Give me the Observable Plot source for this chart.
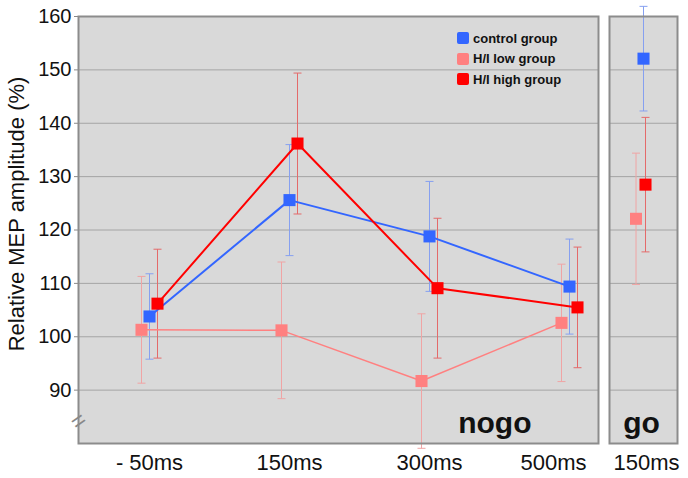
<!DOCTYPE html>
<html>
<head>
<meta charset="utf-8">
<script src="https://cdn.jsdelivr.net/npm/d3@7"></script>
<script src="https://cdn.jsdelivr.net/npm/@observablehq/plot@0.6"></script>
<style>
  html, body { margin: 0; padding: 0; background: #fff; }
  #chart { position: relative; width: 688px; height: 478px; font-family: "Liberation Sans", Arial, Helvetica, sans-serif; }
  #nogo { position: absolute; left: 0; top: 0; }
  #go { position: absolute; left: 600px; top: 0; }
  #legend { position: absolute; left: 457px; top: 28px; font-weight: bold; font-size: 13px; color: #111; }
  .row { display: flex; align-items: center; height: 20.5px; }
  .sw { width: 12px; height: 12px; border-radius: 2px; margin-right: 4px; }
</style>
</head>
<body>
<div id="chart">
  <div id="nogo"></div>
  <div id="go"></div>
  <div id="legend"></div>
</div>
<script>
// ---- data ----
const categories = ["- 50ms", "150ms", "300ms", "500ms"];
const goCategory = ["150ms"];
const seriesNames = ["control group", "H/I low group", "H/I high group"];
const seriesColors = ["#3366ff", "#ff8080", "#ff0000"];
const errorColors = ["#86a0f0", "#f0a4a4", "#e46a6a"];

const controlMean = [103.8, 125.6, 118.8, 109.4];
const controlErr  = [8.0, 10.4, 10.3, 8.9];
const lowMean     = [101.3, 101.2, 91.7, 102.6];
const lowErr      = [10.0, 12.8, 12.6, 11.0];
const highMean    = [106.2, 136.2, 109.1, 105.5];
const highErr     = [10.2, 13.2, 13.1, 11.3];

const goControlMean = [152.1];
const goControlErr  = [9.8];
const goLowMean     = [122.1];
const goLowErr      = [12.3];
const goHighMean    = [128.5];
const goHighErr     = [12.6];

const yTicks = [90, 100, 110, 120, 130, 140, 150, 160];
const yDomain = [80, 160];
const yLabel = "Relative MEP amplitude (%)";
const panelLabels = ["nogo", "go"];
const axisBreak = [84.2];

// ---- helpers ----
function rows(cats, means, errs) {
  return cats.map((c, i) => ({x: c, y: means[i], lo: means[i] - errs[i], hi: means[i] + errs[i]}));
}
const capSymbol = {
  draw(ctx, size) { const w = Math.sqrt(size / Math.PI); ctx.moveTo(-w, 0); ctx.lineTo(w, 0); }
};
const font = "'Liberation Sans', Arial, Helvetica, sans-serif";

function errorMarks(data, color, dx) {
  return [
    Plot.link(data, {x1: "x", x2: "x", y1: "lo", y2: "hi", stroke: color, strokeOpacity: 1, strokeWidth: 1, dx}),
    Plot.dot(data, {x: "x", y: "lo", symbol: capSymbol, r: 4, stroke: color, fill: "none", strokeWidth: 1, dx}),
    Plot.dot(data, {x: "x", y: "hi", symbol: capSymbol, r: 4, stroke: color, fill: "none", strokeWidth: 1, dx})
  ];
}
function squareMarks(data, color, dx) {
  return Plot.dot(data, {x: "x", y: "y", symbol: "square", r: 6.8, fill: color, stroke: null, dx});
}

// ---- nogo panel ----
const nogoSeries = [
  {data: rows(categories, lowMean, lowErr), color: seriesColors[1], err: errorColors[1], dx: -8, w: 1.5},
  {data: rows(categories, controlMean, controlErr), color: seriesColors[0], err: errorColors[0], dx: 0, w: 2},
  {data: rows(categories, highMean, highErr), color: seriesColors[2], err: errorColors[2], dx: 8, w: 2}
];

const axisStyle = {tickSize: 0, tickPadding: 11, fontSize: 22, label: null};

const nogo = Plot.plot({
  width: 600, height: 478,
  marginLeft: 78, marginRight: 2, marginTop: 16, marginBottom: 35,
  style: {fontFamily: font, background: "transparent", overflow: "visible", color: "#111"},
  x: {type: "point", domain: categories, padding: 0, insetLeft: 70, insetRight: 29, label: null},
  y: {domain: yDomain, label: null},
  marks: [
    Plot.frame({fill: "#d9d9d9", stroke: null}),
    Plot.gridY(yTicks, {stroke: "#a4a4a4", strokeOpacity: 1}),
    Plot.axisY(yTicks, {tickSize: 4, tickPadding: 3, fontSize: 20, stroke: "#888", label: null}),
    Plot.axisX(categories.slice(0, 3), axisStyle),
    Plot.axisX(categories.slice(3), {...axisStyle, dx: -16}),
    Plot.text([yLabel], {text: d => d, frameAnchor: "left", textAnchor: "middle", lineAnchor: "middle", rotate: -90, dx: -62, dy: -16, fontSize: 22, fill: "#111"}),
    ...nogoSeries.flatMap(s => errorMarks(s.data, s.err, s.dx)),
    ...nogoSeries.map(s => Plot.line(s.data, {x: "x", y: "y", stroke: s.color, strokeWidth: s.w, dx: s.dx})),
    ...nogoSeries.map(s => squareMarks(s.data, s.color, s.dx)),
    Plot.text([panelLabels[0]], {text: d => d, frameAnchor: "bottom-right", textAnchor: "end", lineAnchor: "bottom", dx: -67, dy: -11, fontSize: 30, fontWeight: "bold", fill: "#111"}),
    Plot.frame({stroke: "#8c8c8c", strokeWidth: 2, fill: null}),
    Plot.text(axisBreak, {y: d => d, text: () => "=", frameAnchor: "left", textAnchor: "middle", lineAnchor: "middle", rotate: -35, fontSize: 24, fill: "#888"})
  ]
});
document.getElementById("nogo").appendChild(nogo);

// ---- go panel ----
const goSeries = [
  {data: rows(goCategory, goLowMean, goLowErr), color: seriesColors[1], err: errorColors[1], dx: -7.5},
  {data: rows(goCategory, goControlMean, goControlErr), color: seriesColors[0], err: errorColors[0], dx: 0},
  {data: rows(goCategory, goHighMean, goHighErr), color: seriesColors[2], err: errorColors[2], dx: 2}
];

const go = Plot.plot({
  width: 88, height: 478,
  marginLeft: 9, marginRight: 11, marginTop: 16, marginBottom: 35,
  style: {fontFamily: font, background: "transparent", overflow: "visible", color: "#111"},
  x: {type: "point", domain: goCategory, label: null},
  y: {domain: yDomain, label: null, axis: null},
  marks: [
    Plot.frame({fill: "#d9d9d9", stroke: null}),
    Plot.gridY(yTicks, {stroke: "#a4a4a4", strokeOpacity: 1}),
    Plot.axisX({...axisStyle, dx: 3}),
    ...goSeries.flatMap(s => errorMarks(s.data, s.err, s.dx)),
    ...goSeries.map(s => squareMarks(s.data, s.color, s.dx)),
    Plot.text([panelLabels[1]], {text: d => d, frameAnchor: "bottom", lineAnchor: "bottom", dx: -2, dy: -11, fontSize: 30, fontWeight: "bold", fill: "#111"}),
    Plot.frame({stroke: "#8c8c8c", strokeWidth: 2, fill: null})
  ]
});
document.getElementById("go").appendChild(go);

// ---- legend ----
const legend = document.getElementById("legend");
seriesNames.forEach((name, i) => {
  const row = document.createElement("div");
  row.className = "row";
  const sw = document.createElement("div");
  sw.className = "sw";
  sw.style.background = seriesColors[i];
  const t = document.createElement("span");
  t.textContent = name;
  row.appendChild(sw);
  row.appendChild(t);
  legend.appendChild(row);
});
</script>
</body>
</html>
